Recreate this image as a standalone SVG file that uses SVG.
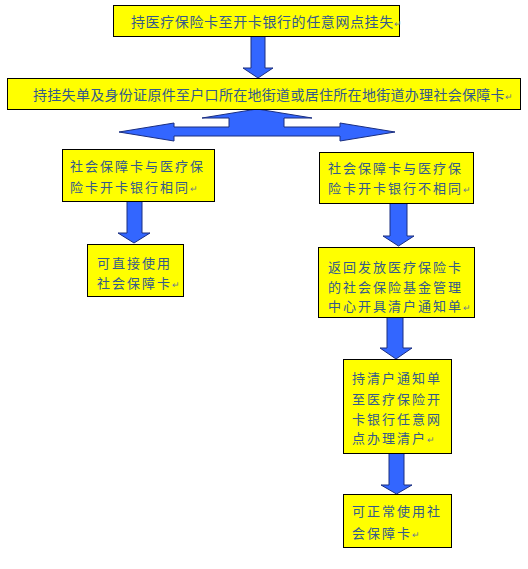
<svg xmlns="http://www.w3.org/2000/svg" width="528" height="569" viewBox="0 0 528 569">
<style>
.box{fill:#FFFF00;stroke:#000;stroke-width:1}
.t{font-family:"Noto Sans CJK SC","Liberation Sans",sans-serif;fill:#34598C}
.big{font-size:14px;letter-spacing:0.6px}
.sm{font-size:13px;letter-spacing:2px}
.rm{font-size:9px;fill:#6A7A90;letter-spacing:0}
.arr{fill:#3366FF;stroke:#1A2E80;stroke-width:1}
</style>
<rect width="528" height="569" fill="#fff"/>
<g id="connectors">
<polygon class="arr" points="251,36 265,36 265,68 273,68 258,78 243,68 251,68"/>
<polygon class="arr" points="257,109 312,118 284,118 284,127 340,127 340,123 395,132 340,141 340,136 174,136 174,141 119,132 174,123 174,127 229,127 229,118 202,118"/>
<polygon class="arr" points="127,201 142,201 142,233 150,233 134,243 118,233 127,233"/>
<polygon class="arr" points="390,203 407,203 407,236 414,236 398.5,246 383,236 390,236"/>
<polygon class="arr" points="387,317 403,317 403,348 412,348 396,359 380,348 387,348"/>
<polygon class="arr" points="389,453 404,453 404,485 412,485 396.5,494 381,485 389,485"/>
</g>
<g id="n1">
<rect class="box" x="113.5" y="5.5" width="286" height="31"/>
<text class="t big" x="131" y="27">持医疗保险卡至开卡银行的任意网点挂失<tspan class="rm">↵</tspan></text>
</g>
<g id="n2">
<rect class="box" x="7.5" y="78.5" width="513" height="31"/>
<text class="t big" x="33" y="100" style="letter-spacing:0.3px">持挂失单及身份证原件至户口所在地街道或居住所在地街道办理社会保障卡<tspan class="rm">↵</tspan></text>
</g>
<g id="n3">
<rect class="box" x="62.5" y="149.5" width="152" height="52"/>
<text class="t sm" x="70" y="171">社会保障卡与医疗保</text>
<text class="t sm" x="70" y="192">险卡开卡银行相同<tspan class="rm">↵</tspan></text>
</g>
<g id="n4">
<rect class="box" x="87.5" y="244.5" width="96" height="52"/>
<text class="t sm" x="97" y="268">可直接使用</text>
<text class="t sm" x="97" y="288">社会保障卡<tspan class="rm">↵</tspan></text>
</g>
<g id="n5">
<rect class="box" x="319.5" y="152.5" width="154" height="51"/>
<text class="t sm" x="328" y="173">社会保障卡与医疗保</text>
<text class="t sm" x="328" y="193">险卡开卡银行不相同<tspan class="rm">↵</tspan></text>
</g>
<g id="n6">
<rect class="box" x="318.5" y="247.5" width="156" height="70"/>
<text class="t sm" x="328" y="272">返回发放医疗保险卡</text>
<text class="t sm" x="328" y="292">的社会保险基金管理</text>
<text class="t sm" x="328" y="311">中心开具清户通知单<tspan class="rm">↵</tspan></text>
</g>
<g id="n7">
<rect class="box" x="343.5" y="359.5" width="108" height="94"/>
<text class="t sm" x="352" y="383">持清户通知单</text>
<text class="t sm" x="352" y="404">至医疗保险开</text>
<text class="t sm" x="352" y="424">卡银行任意网</text>
<text class="t sm" x="352" y="443">点办理清户<tspan class="rm">↵</tspan></text>
</g>
<g id="n8">
<rect class="box" x="343.5" y="494.5" width="108" height="53"/>
<text class="t sm" x="352" y="516">可正常使用社</text>
<text class="t sm" x="352" y="538">会保障卡<tspan class="rm">↵</tspan></text>
</g>
</svg>
